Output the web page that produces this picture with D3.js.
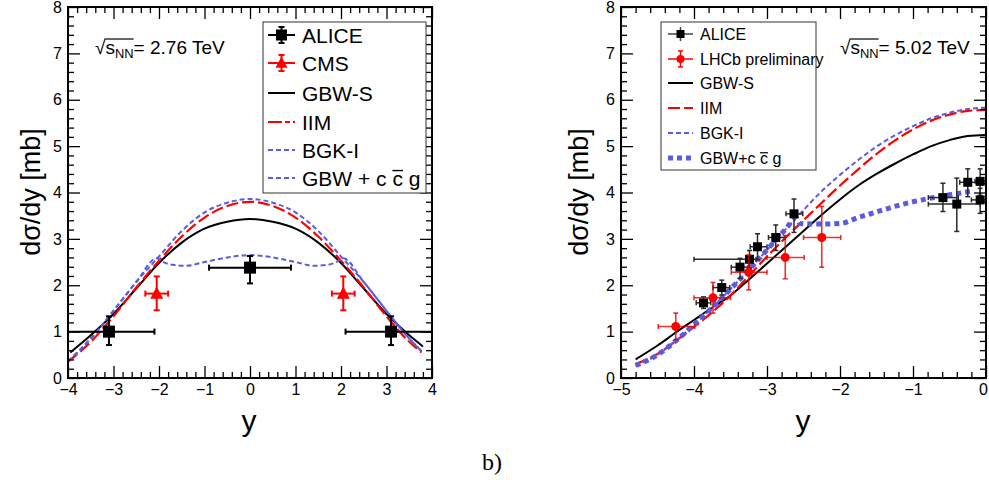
<!doctype html>
<html lang="en">
<head>
<meta charset="utf-8">
<title>J/psi rapidity distributions</title>
<style>
  body { margin: 0; background: #fff; }
  svg text { font-family: "Liberation Sans", Arial, sans-serif; }
</style>
</head>
<body>
<svg width="989" height="480"></svg>
<script src="https://cdn.jsdelivr.net/npm/d3@7/dist/d3.min.js"></script>
<script>

// ---- left panel (2.76 TeV) ----
// rows: [y, value, yLow, yHigh, valueLow, valueHigh]
var aliceLeft = [
  [-3.1, 1.00, -4.1, -2.1, 0.71, 1.33],
  [ 0.0, 2.38, -0.9,  0.9, 2.04, 2.63],
  [ 3.1, 1.00,  2.1,  4.1, 0.71, 1.33]
];
var cmsLeft = [
  [-2.05, 1.82, -2.3, -1.8, 1.46, 2.19],
  [ 2.05, 1.82,  1.8,  2.3, 1.46, 2.19]
];
var gbwsLeftY = [-3.95, -3.5, -3, -2.5, -2, -1.5, -1, -0.5, 0, 0.5, 1, 1.5, 2, 2.5, 3, 3.5, 3.8];
var gbwsLeftV = [0.55, 0.92, 1.38, 1.93, 2.48, 2.92, 3.22, 3.37, 3.43, 3.37, 3.22, 2.92, 2.48, 1.93, 1.38, 0.92, 0.68];
var iimLeftY  = [-4, -3.5, -3, -2.5, -2, -1.5, -1, -0.5, 0, 0.5, 1, 1.5, 2, 2.5, 3, 3.5, 3.77];
var iimLeftV  = [0.35, 0.78, 1.33, 1.95, 2.53, 3.05, 3.46, 3.71, 3.80, 3.71, 3.46, 3.05, 2.53, 1.95, 1.33, 0.78, 0.55];
var bgkLeftY  = [-4, -3.5, -3, -2.5, -2, -1.5, -1, -0.5, 0, 0.5, 1, 1.5, 2, 2.5, 3, 3.5, 3.77];
var bgkLeftV  = [0.36, 0.85, 1.45, 2.07, 2.62, 3.17, 3.57, 3.78, 3.86, 3.78, 3.57, 3.17, 2.62, 2.07, 1.45, 0.85, 0.58];
var ccgLeftY  = [-4, -3.5, -3, -2.5, -2.05, -1.9, -1.7, -1.4, -1, -0.5, 0, 0.5, 1, 1.4, 1.7, 1.9, 2.05, 2.5, 3, 3.5, 3.77];
var ccgLeftV  = [0.36, 0.85, 1.45, 2.07, 2.58, 2.50, 2.44, 2.42, 2.50, 2.60, 2.65, 2.60, 2.50, 2.42, 2.44, 2.50, 2.58, 2.07, 1.45, 0.85, 0.58];

// ---- right panel (5.02 TeV) ----
var aliceRight = [
  [-3.87, 1.62, -3.97, -3.77, 1.50, 1.75],
  [-3.62, 1.95, -3.74, -3.51, 1.79, 2.11],
  [-3.37, 2.39, -3.49, -3.26, 2.15, 2.58],
  [-3.24, 2.56, -4.00, -3.15, 2.37, 2.75],
  [-3.13, 2.83, -3.23, -3.00, 2.55, 3.11],
  [-2.88, 3.03, -2.98, -2.75, 2.75, 3.30],
  [-2.63, 3.54, -2.74, -2.51, 3.14, 3.86],
  [-0.59, 3.89, -0.79, -0.38, 3.59, 4.20],
  [-0.40, 3.75, -0.79, -0.08, 3.16, 4.31],
  [-0.25, 4.22, -0.36, -0.13, 3.91, 4.51],
  [-0.08, 4.24, -0.15,  0.05, 3.94, 4.51],
  [-0.08, 3.84, -0.20,  0.05, 3.55, 4.09]
];
var lhcbRight = [
  [-4.25, 1.11, -4.49, -3.99, 0.82, 1.40],
  [-3.74, 1.73, -4.00, -3.50, 1.40, 2.06],
  [-3.25, 2.28, -3.49, -3.00, 1.90, 2.65],
  [-2.75, 2.60, -3.00, -2.49, 2.14, 3.07],
  [-2.25, 3.03, -2.50, -1.99, 2.39, 3.70]
];
var rightY     = [-4.8, -4.5, -4.25, -4, -3.75, -3.5, -3.25, -3, -2.75, -2.5, -2.25, -2, -1.75, -1.5, -1.25, -1, -0.75, -0.5, -0.25, 0];
var gbwsRightV = [0.40, 0.70, 0.98, 1.25, 1.52, 1.78, 2.12, 2.47, 2.82, 3.17, 3.52, 3.85, 4.15, 4.40, 4.62, 4.82, 5.00, 5.13, 5.22, 5.24];
var iimRightV  = [0.30, 0.52, 0.80, 1.10, 1.42, 1.78, 2.20, 2.62, 3.02, 3.40, 3.78, 4.15, 4.50, 4.83, 5.12, 5.36, 5.55, 5.68, 5.76, 5.78];
var bgkRightV  = [0.27, 0.50, 0.80, 1.15, 1.52, 1.92, 2.33, 2.76, 3.20, 3.62, 4.03, 4.38, 4.70, 4.99, 5.23, 5.43, 5.60, 5.72, 5.80, 5.83];
var ccgRightY  = [-4.8, -4.5, -4.25, -4, -3.75, -3.5, -3.25, -3, -2.75, -2.6, -2.55, -2.25, -2, -1.75, -1.5, -1.25, -1, -0.75, -0.5, -0.22];
var ccgRightV  = [0.27, 0.50, 0.80, 1.15, 1.52, 1.92, 2.33, 2.76, 3.20, 3.45, 3.33, 3.32, 3.33, 3.46, 3.58, 3.70, 3.80, 3.88, 3.95, 4.02];

var yTicks = [0, 1, 2, 3, 4, 5, 6, 7, 8];
var leftXTicks = [-4, -3, -2, -1, 0, 1, 2, 3, 4];
var rightXTicks = [-5, -4, -3, -2, -1, 0];

var RED = "#ff0000", BLUE = "#5b5be0";

var svg = d3.select("svg");
var plotTop = 7, plotBottom = 378;

function zip(a, b) { return a.map(function(v, i) { return [v, b[i]]; }); }

function minors(lo, hi) {
  var out = [];
  for (var i = Math.round(lo * 5); i <= Math.round(hi * 5); i++) if (i % 5 !== 0) out.push(i / 5);
  return out;
}

function makePanel(id, left, right, domain) {
  var x = d3.scaleLinear().domain(domain).range([left, right]);
  var y = d3.scaleLinear().domain([0, 8]).range([plotBottom, plotTop]);
  svg.append("clipPath").attr("id", id).append("rect")
      .attr("x", left).attr("y", plotTop).attr("width", right - left).attr("height", plotBottom - plotTop);
  var plot = svg.append("g").attr("clip-path", "url(#" + id + ")");
  return {x: x, y: y, plot: plot, left: left, right: right};
}

function drawFrame(p, xTicks) {
  var x = p.x, y = p.y;
  var xMin = minors(x.domain()[0], x.domain()[1]), yMin = minors(0, 8);
  function clean(sel) { sel.select(".domain").remove(); sel.selectAll("line").attr("stroke", "#000").attr("stroke-width", 1.3); }

  var bx = svg.append("g").attr("transform", "translate(0," + plotBottom + ")")
      .call(d3.axisBottom(x).tickValues(xTicks).tickSizeInner(-12).tickSizeOuter(0).tickPadding(6).tickFormat(d3.format("d")));
  clean(bx);
  bx.selectAll("text").attr("font-size", 16).attr("font-family", "Liberation Sans, Arial, sans-serif").attr("fill", "#000")
      .attr("dx", function(d) { return x(d) > 980 ? -3 : 0; });
  clean(svg.append("g").attr("transform", "translate(0," + plotBottom + ")")
      .call(d3.axisBottom(x).tickValues(xMin).tickSize(-6).tickFormat("")));
  clean(svg.append("g").attr("transform", "translate(0," + plotTop + ")")
      .call(d3.axisTop(x).tickValues(xTicks).tickSize(-12).tickFormat("")));
  clean(svg.append("g").attr("transform", "translate(0," + plotTop + ")")
      .call(d3.axisTop(x).tickValues(xMin).tickSize(-6).tickFormat("")));

  var ly = svg.append("g").attr("transform", "translate(" + p.left + ",0)")
      .call(d3.axisLeft(y).tickValues(yTicks).tickSizeInner(-12).tickSizeOuter(0).tickPadding(6));
  clean(ly);
  ly.selectAll("text").attr("font-size", 16).attr("font-family", "Liberation Sans, Arial, sans-serif").attr("fill", "#000");
  clean(svg.append("g").attr("transform", "translate(" + p.left + ",0)")
      .call(d3.axisLeft(y).tickValues(yMin).tickSize(-6).tickFormat("")));
  clean(svg.append("g").attr("transform", "translate(" + p.right + ",0)")
      .call(d3.axisRight(y).tickValues(yTicks).tickSize(-12).tickFormat("")));
  clean(svg.append("g").attr("transform", "translate(" + p.right + ",0)")
      .call(d3.axisRight(y).tickValues(yMin).tickSize(-6).tickFormat("")));

  svg.append("rect")
      .attr("x", p.left).attr("y", plotTop)
      .attr("width", p.right - p.left).attr("height", plotBottom - plotTop)
      .attr("fill", "none").attr("stroke", "#000").attr("stroke-width", 2);
}

function drawCurve(p, pts, color, width, dash) {
  var line = d3.line()
      .x(function(d) { return p.x(d[0]); })
      .y(function(d) { return p.y(d[1]); })
      .curve(d3.curveMonotoneX);
  p.plot.append("path")
      .datum(pts)
      .attr("d", line)
      .attr("fill", "none")
      .attr("stroke", color)
      .attr("stroke-width", width)
      .attr("stroke-dasharray", dash || null);
}

function drawMarker(g, cx, cy, shape, size, color) {
  if (shape === "square") {
    g.append("rect").attr("x", cx - size / 2).attr("y", cy - size / 2)
        .attr("width", size).attr("height", size).attr("fill", color);
  } else if (shape === "triangle") {
    var h = size * 0.9;
    g.append("path").attr("d", "M" + cx + "," + (cy - h * 0.6) + "L" + (cx + size / 2) + "," + (cy + h * 0.45) +
        "L" + (cx - size / 2) + "," + (cy + h * 0.45) + "Z").attr("fill", color);
  } else {
    g.append("circle").attr("cx", cx).attr("cy", cy).attr("r", size / 2).attr("fill", color);
  }
}

function drawPoints(p, rows, o) {
  var g = p.plot.append("g");
  rows.forEach(function(d) {
    var cx = p.x(d[0]), cy = p.y(d[1]);
    var x0 = p.x(d[2]), x1 = p.x(d[3]), y0 = p.y(d[4]), y1 = p.y(d[5]);
    var c = o.cap;
    var e = g.append("g").attr("stroke", o.barColor).attr("stroke-width", o.barWidth);
    e.append("line").attr("x1", x0).attr("x2", x1).attr("y1", cy).attr("y2", cy);
    e.append("line").attr("x1", cx).attr("x2", cx).attr("y1", y0).attr("y2", y1);
    e.append("line").attr("x1", x0).attr("x2", x0).attr("y1", cy - c).attr("y2", cy + c);
    e.append("line").attr("x1", x1).attr("x2", x1).attr("y1", cy - c).attr("y2", cy + c);
    e.append("line").attr("x1", cx - c).attr("x2", cx + c).attr("y1", y0).attr("y2", y0);
    e.append("line").attr("x1", cx - c).attr("x2", cx + c).attr("y1", y1).attr("y2", y1);
    drawMarker(g, cx, cy, o.shape, o.size, o.color);
  });
}

function overline(textSel, i0, i1, dy, width) {
  var node = textSel.node();
  var a = node.getExtentOfChar(i0), b = node.getExtentOfChar(i1);
  svg.append("line")
      .attr("x1", a.x).attr("x2", b.x + b.width)
      .attr("y1", a.y + dy).attr("y2", a.y + dy)
      .attr("stroke", "#000").attr("stroke-width", width || 1.2);
}

function energyLabel(x, y, energy, size) {
  var t = svg.append("text").attr("x", x).attr("y", y).attr("font-size", size).attr("fill", "#000");
  t.append("tspan").text("\u221A");
  t.append("tspan").text("s");
  t.append("tspan").attr("font-size", size * 0.68).attr("dy", 4).text("NN");
  t.append("tspan").attr("dy", -4).text("= " + energy + " TeV");
  var node = t.node();
  var r = node.getExtentOfChar(0), n = node.getExtentOfChar(3);
  svg.append("line")
      .attr("x1", r.x + r.width - 1).attr("x2", n.x + n.width)
      .attr("y1", r.y + 2).attr("y2", r.y + 2)
      .attr("stroke", "#000").attr("stroke-width", 1.2);
}

function legendText(x, y, s, size) {
  return svg.append("text").attr("x", x).attr("y", y).attr("dy", "0.36em")
      .attr("font-size", size).attr("fill", "#000").text(s);
}

function legendPoint(x0, x1, cy, o) {
  var cx = (x0 + x1) / 2, g = svg.append("g");
  g.append("line").attr("x1", x0).attr("x2", x1).attr("y1", cy).attr("y2", cy)
      .attr("stroke", o.barColor).attr("stroke-width", o.barWidth);
  g.append("line").attr("x1", cx).attr("x2", cx).attr("y1", cy - o.ebar).attr("y2", cy + o.ebar)
      .attr("stroke", o.barColor).attr("stroke-width", o.barWidth);
  g.append("line").attr("x1", cx - o.cap).attr("x2", cx + o.cap).attr("y1", cy - o.ebar).attr("y2", cy - o.ebar)
      .attr("stroke", o.barColor).attr("stroke-width", o.barWidth);
  g.append("line").attr("x1", cx - o.cap).attr("x2", cx + o.cap).attr("y1", cy + o.ebar).attr("y2", cy + o.ebar)
      .attr("stroke", o.barColor).attr("stroke-width", o.barWidth);
  drawMarker(g, cx, cy, o.shape, o.size, o.color);
}

function legendLine(x0, x1, cy, color, width, dash) {
  svg.append("line").attr("x1", x0).attr("x2", x1).attr("y1", cy).attr("y2", cy)
      .attr("stroke", color).attr("stroke-width", width).attr("stroke-dasharray", dash || null);
}

function yLabel(cx, cy) {
  svg.append("text")
      .attr("transform", "translate(" + cx + "," + cy + ") rotate(-90)")
      .attr("text-anchor", "middle").attr("dy", "0.35em")
      .attr("font-size", 27).attr("fill", "#000")
      .text("d\u03C3/dy [mb]");
}

function xLabel(cx) {
  svg.append("text").attr("x", cx).attr("y", 431).attr("text-anchor", "middle")
      .attr("font-size", 30).attr("fill", "#000").text("y");
}

var aliceBig = {shape: "square", size: 12, color: "#000", barColor: "#000", barWidth: 2, cap: 3};
var cmsStyle = {shape: "triangle", size: 13, color: RED, barColor: RED, barWidth: 2, cap: 3};
var aliceSmall = {shape: "square", size: 9, color: "#000", barColor: "#2b2b2b", barWidth: 1.5, cap: 2.5};
var lhcbStyle = {shape: "circle", size: 9, color: RED, barColor: "rgba(230,0,0,0.8)", barWidth: 1.6, cap: 2.5};

// ---------- left panel ----------
var pl = makePanel("clipL", 68, 432, [-4, 4]);
drawCurve(pl, zip(gbwsLeftY, gbwsLeftV), "#000", 2);
drawCurve(pl, zip(iimLeftY, iimLeftV), RED, 2.2, "12,4");
drawCurve(pl, zip(bgkLeftY, bgkLeftV), BLUE, 2, "5,3");
drawCurve(pl, zip(ccgLeftY, ccgLeftV), BLUE, 2, "5,3");
drawPoints(pl, aliceLeft, aliceBig);
drawPoints(pl, cmsLeft, cmsStyle);
drawFrame(pl, leftXTicks);

svg.append("rect").attr("x", 263).attr("y", 22).attr("width", 163).attr("height", 171)
    .attr("fill", "#fff").attr("stroke", "#333").attr("stroke-width", 1);
var lRows = [35, 63, 93, 122, 150, 178];
legendPoint(268, 295, lRows[0], {shape: "square", size: 11, color: "#000", barColor: "#000", barWidth: 2, cap: 3, ebar: 8});
legendPoint(268, 295, lRows[1], {shape: "triangle", size: 12, color: RED, barColor: RED, barWidth: 2, cap: 3, ebar: 8});
legendLine(268, 295, lRows[2], "#000", 2);
legendLine(268, 295, lRows[3], RED, 2.2, "14,3,5,3");
legendLine(268, 295, lRows[4], BLUE, 2, "5,3");
legendLine(268, 295, lRows[5], BLUE, 2, "5,3");
legendText(302, lRows[0], "ALICE", 21);
legendText(302, lRows[1], "CMS", 21);
legendText(302, lRows[2], "GBW-S", 21);
legendText(302, lRows[3], "IIM", 21);
legendText(302, lRows[4], "BGK-I", 21);
var ccgL = legendText(302, lRows[5], "GBW + c c g", 21);
overline(ccgL, 8, 8, 4, 1.4);

energyLabel(95, 54, "2.76", 19);
yLabel(31, 192);
xLabel(249);

// ---------- right panel ----------
var pr = makePanel("clipR", 621, 986, [-5, 0]);
drawCurve(pr, zip(rightY, gbwsRightV), "#000", 2);
drawCurve(pr, zip(rightY, iimRightV), RED, 2.2, "12,4");
drawCurve(pr, zip(rightY, bgkRightV), BLUE, 2, "5,3");
drawCurve(pr, zip(ccgRightY, ccgRightV), BLUE, 5, "5,4");
drawPoints(pr, aliceRight, aliceSmall);
drawPoints(pr, lhcbRight, lhcbStyle);
drawFrame(pr, rightXTicks);

svg.append("rect").attr("x", 661).attr("y", 22).attr("width", 155).attr("height", 148)
    .attr("fill", "#fff").attr("stroke", "#333").attr("stroke-width", 1);
var rRows = [34, 59, 83, 108, 133, 158];
legendPoint(668, 693, rRows[0], {shape: "square", size: 8, color: "#000", barColor: "#444", barWidth: 1.5, cap: 0, ebar: 7});
legendPoint(668, 693, rRows[1], {shape: "circle", size: 8, color: RED, barColor: RED, barWidth: 1.5, cap: 2.5, ebar: 8});
legendLine(668, 693, rRows[2], "#000", 2);
legendLine(668, 693, rRows[3], RED, 2.2, "12,4");
legendLine(668, 693, rRows[4], BLUE, 2, "5,3");
legendLine(668, 693, rRows[5], BLUE, 5, "5,4");
legendText(700, rRows[0], "ALICE", 16);
legendText(700, rRows[1], "LHCb preliminary", 16);
legendText(700, rRows[2], "GBW-S", 16);
legendText(700, rRows[3], "IIM", 16);
legendText(700, rRows[4], "BGK-I", 16);
var ccgR = legendText(700, rRows[5], "GBW+c c g", 16);
overline(ccgR, 6, 6, 3, 1.2);

energyLabel(840, 54, "5.02", 19);
yLabel(579, 192);
xLabel(803);

svg.append("text").attr("x", 492).attr("y", 470).attr("text-anchor", "middle")
    .style("font-family", "Liberation Serif, serif")
    .attr("font-size", 24).attr("fill", "#000").text("b)");

</script>
</body>
</html>
